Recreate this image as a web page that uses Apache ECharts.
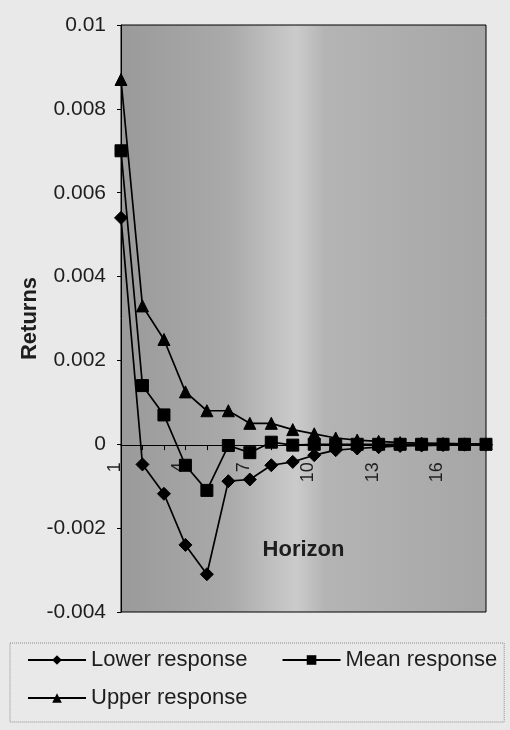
<!DOCTYPE html>
<html>
<head>
<meta charset="utf-8">
<script src="https://cdn.jsdelivr.net/npm/echarts@6/dist/echarts.min.js"></script>
<style>
  html, body { margin: 0; padding: 0; background: #e9e9e9; }
  #chart { width: 510px; height: 730px; }
</style>
</head>
<body>
<div id="chart"></div>
<script>
// Impulse response of returns over an 18-period horizon
const horizons = ['1','2','3','4','5','6','7','8','9','10','11','12','13','14','15','16','17','18'];

const lowerResponse = [0.0054, -0.00048, -0.00118, -0.0024, -0.0031, -0.00088, -0.00084, -0.0005, -0.00042,
  -0.00026, -0.00014, -0.0001, -0.00007, -0.00004, -0.00003, -0.00002, -0.00001, -0.00001];
const meanResponse = [0.0070, 0.0014, 0.0007, -0.0005, -0.0011, -0.00003, -0.0002, 0.00005, -0.00002,
  0.0, 0.0, 0.0, 0.0, 0.0, 0.0, 0.0, 0.0, 0.0];
const upperResponse = [0.0087, 0.0033, 0.0025, 0.00125, 0.0008, 0.0008, 0.0005, 0.0005, 0.00035,
  0.00025, 0.00015, 0.0001, 0.00007, 0.00004, 0.00003, 0.00002, 0.00001, 0.00001];

const seriesNames = ['Lower response', 'Mean response', 'Upper response'];
const returnTicks = ['-0.004', '-0.002', '0', '0.002', '0.004', '0.006', '0.008', '0.01'];

const Y_MIN = -0.004, Y_MAX = 0.01, Y_STEP = 0.002;
const FONT = '"Liberation Sans", Arial, sans-serif';

const chart = echarts.init(document.getElementById('chart'), null, { renderer: 'canvas' });

function lineSeries(name, data, symbol, size) {
  return {
    name: name,
    type: 'line',
    data: data,
    symbol: symbol,
    symbolSize: size,
    showSymbol: true,
    lineStyle: { color: '#000', width: 1.7 },
    itemStyle: { color: '#000', borderColor: '#000' },
    emphasis: { disabled: true }
  };
}

const legendText = { fontFamily: FONT, fontSize: 22, color: '#1e1e1e' };

chart.setOption({
  animation: false,
  backgroundColor: '#e9e9e9',
  textStyle: { fontFamily: FONT },
  grid: {
    left: 121, right: 24, top: 25, bottom: 118,
    show: true,
    borderColor: '#000',
    borderWidth: 1,
    backgroundColor: {
      type: 'linear', x: 0, y: 0, x2: 1, y2: 0,
      colorStops: [
        { offset: 0, color: '#9a9a9a' },
        { offset: 0.30, color: '#aaaaaa' },
        { offset: 0.44, color: '#c4c4c4' },
        { offset: 0.48, color: '#cbcbcb' },
        { offset: 0.56, color: '#b4b4b4' },
        { offset: 1, color: '#a6a6a6' }
      ]
    }
  },
  legend: [
    {
      // first row plus the frame around both rows
      left: 10, top: 643, width: 474,
      orient: 'horizontal',
      padding: [6, 7, 51, 17],
      itemGap: 34,
      itemWidth: 58, itemHeight: 12,
      borderColor: '#8a8a8a', borderWidth: 1, borderType: 'dotted',
      textStyle: legendText,
      data: [seriesNames[0], seriesNames[1]]
    },
    {
      left: 10, top: 687,
      orient: 'horizontal',
      padding: [0, 0, 0, 17],
      itemWidth: 58, itemHeight: 12,
      textStyle: legendText,
      data: [seriesNames[2]]
    }
  ],
  xAxis: {
    type: 'category',
    data: horizons,
    boundaryGap: false,
    name: 'Horizon',
    nameLocation: 'middle',
    nameGap: 94,
    nameMoveOverlap: false,
    nameTextStyle: { fontFamily: FONT, fontSize: 22, fontWeight: 'bold', color: '#1e1e1e' },
    axisLine: { onZero: false, lineStyle: { color: '#000', width: 1 } },
    axisTick: { show: true, interval: 0, length: 5, lineStyle: { color: '#000' } },
    axisLabel: {
      interval: 2, rotate: 90, fontSize: 18, lineHeight: 12, color: '#1e1e1e', margin: 17,
      verticalAlign: 'bottom'
    },
    splitLine: { show: false }
  },
  yAxis: {
    type: 'value',
    min: Y_MIN, max: Y_MAX, interval: Y_STEP,
    name: 'Returns',
    nameLocation: 'middle',
    nameGap: 80,
    nameMoveOverlap: false,
    nameTextStyle: { fontFamily: FONT, fontSize: 22, fontWeight: 'bold', color: '#1e1e1e' },
    axisLine: { show: true, lineStyle: { color: '#000', width: 1 } },
    axisTick: { show: true, length: 4, lineStyle: { color: '#000' } },
    axisLabel: {
      fontSize: 21, color: '#1e1e1e', margin: 15,
      formatter: v => returnTicks[Math.round((v - Y_MIN) / Y_STEP)]
    },
    splitLine: { show: false }
  },
  series: [
    lineSeries(seriesNames[0], lowerResponse, 'diamond', 13),
    lineSeries(seriesNames[1], meanResponse, 'rect', 12),
    lineSeries(seriesNames[2], upperResponse, 'triangle', 12)
  ]
});

// Lift the whole category axis (line, ticks, labels, title) onto the zero return line
const zeroY = chart.convertToPixel({ yAxisIndex: 0 }, 0);
const floorY = chart.convertToPixel({ yAxisIndex: 0 }, Y_MIN);
chart.setOption({ xAxis: { offset: -(floorY - zeroY) } });
</script>
</body>
</html>
